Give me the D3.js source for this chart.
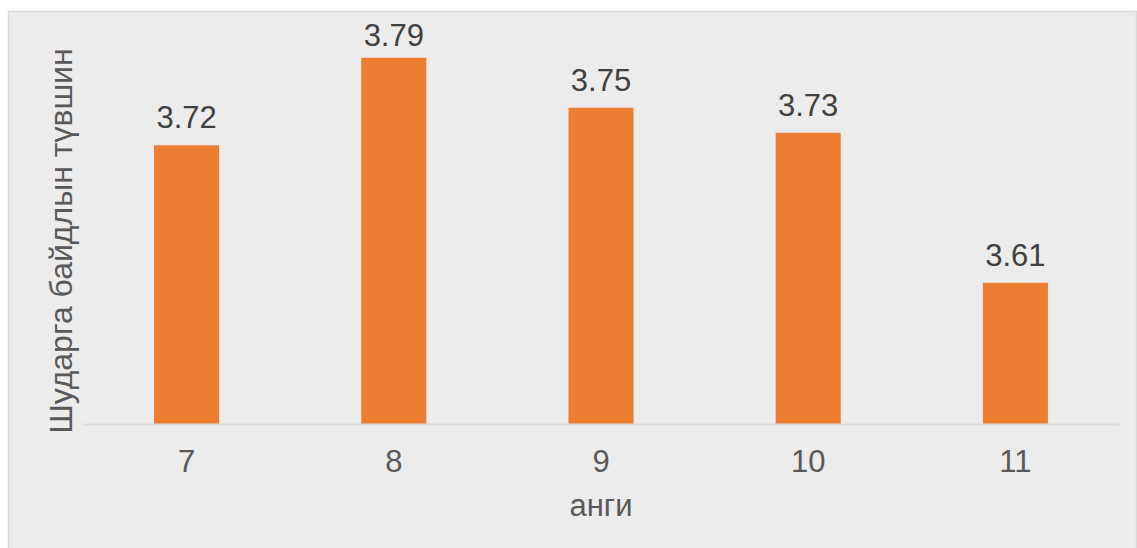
<!DOCTYPE html>
<html>
<head>
<meta charset="utf-8">
<script src="https://cdn.jsdelivr.net/npm/d3@7"></script>
<style>
  html, body { margin: 0; padding: 0; background: #fff; }
  svg { display: block; font-family: "Liberation Sans", Arial, sans-serif; }
</style>
</head>
<body>
<div id="chart"></div>
<script>
var grades = ["7", "8", "9", "10", "11"];
var scores = [3.72, 3.79, 3.75, 3.73, 3.61];
var yTitle = "Шударга байдлын түвшин";
var xTitle = "анги";

var width = 1137,
    height = 548,
    margin = {top: 49, right: 18, bottom: 124, left: 83},
    barColor = "#ED7D31",
    fontSize = 31;

var svg = d3.select("#chart").append("svg")
    .attr("width", width)
    .attr("height", height);

// chart area background
svg.append("rect")
    .attr("x", 8.5).attr("y", 11.5)
    .attr("width", width - 9).attr("height", height)
    .attr("fill", "#ececec")
    .attr("stroke", "#d9d9d9")
    .attr("stroke-width", 1.5);

var x = d3.scaleBand()
    .domain(grades)
    .range([margin.left, width - margin.right])
    .padding(0);

// axis minimum sits just under 3.5 (values shown are rounded)
var yMin = 3.497;
var y = d3.scaleLinear()
    .domain([yMin, yMin + 0.3])
    .range([height - margin.bottom, margin.top]);

var barW = x.bandwidth() * 0.314;

svg.append("g").selectAll("rect")
    .data(scores)
    .enter().append("rect")
    .attr("x", function(d, i) { return x(grades[i]) + (x.bandwidth() - barW) / 2; })
    .attr("y", function(d) { return y(d); })
    .attr("width", barW)
    .attr("height", function(d) { return y(yMin) - y(d); })
    .attr("fill", barColor);

// value labels
svg.append("g").selectAll("text")
    .data(scores)
    .enter().append("text")
    .attr("x", function(d, i) { return x(grades[i]) + x.bandwidth() / 2; })
    .attr("y", function(d) { return Math.max(y(d) - 17, margin.top - 3); })
    .attr("text-anchor", "middle")
    .attr("fill", "#404040")
    .style("font-size", fontSize + "px")
    .text(function(d) { return d.toFixed(2); });

// x axis
var xAxis = svg.append("g")
    .attr("transform", "translate(0," + y(yMin) + ")")
    .call(d3.axisBottom(x).tickSize(0).tickPadding(0));
xAxis.select(".domain").attr("stroke", "#d9d9d9").attr("stroke-width", 2);
xAxis.selectAll("text")
    .attr("dy", null)
    .attr("y", 48)
    .attr("fill", "#595959")
    .style("font-size", fontSize + "px")
    .style("font-family", "'Liberation Sans', Arial, sans-serif");

svg.append("text")
    .attr("x", (margin.left + width - margin.right) / 2)
    .attr("y", 516)
    .attr("text-anchor", "middle")
    .attr("fill", "#595959")
    .style("font-size", fontSize + "px")
    .text(xTitle);

svg.append("text")
    .attr("transform", "translate(72," + 241 + ") rotate(-90)")
    .attr("text-anchor", "middle")
    .attr("fill", "#595959")
    .style("font-size", "32px")
    .text(yTitle);
</script>
</body>
</html>
